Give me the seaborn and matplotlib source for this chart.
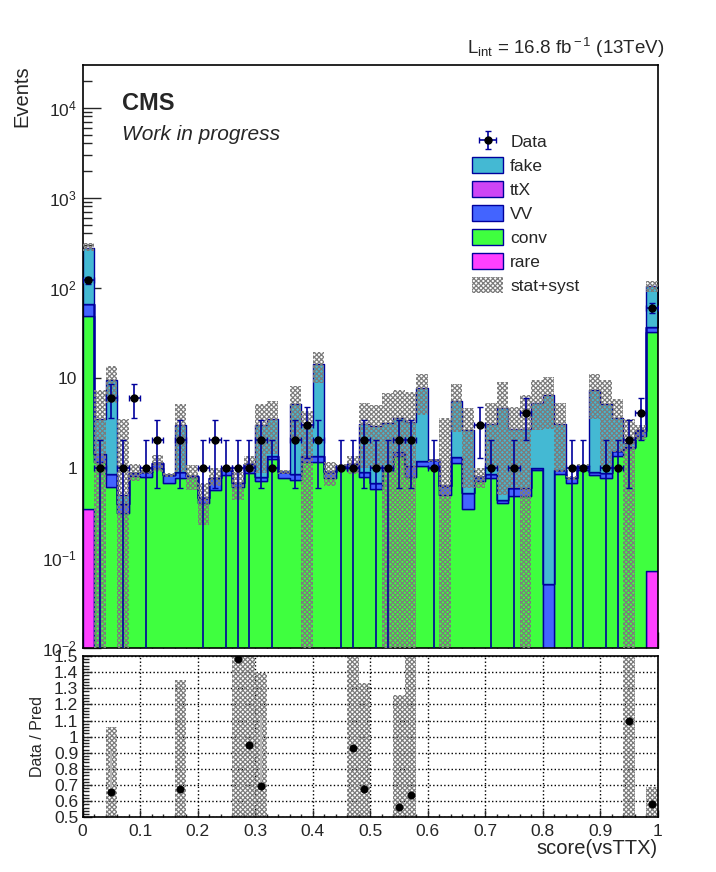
import numpy as np
import pandas as pd
import seaborn as sns
import matplotlib.pyplot as plt
from matplotlib.patches import Patch
from matplotlib.ticker import FixedLocator, MultipleLocator, LogLocator, FuncFormatter, NullFormatter

# binning of the score (50 bins from 0 to 1)
edges = np.linspace(0, 1, 51)
centers = 0.5 * (edges[:-1] + edges[1:])

# expected events per process
rare = [0.35] + [0] * 48 + [0.07]
conv = [48.6, 1.14, 0.615, 0.31, 0.81, 0.79, 1.0, 0.67, 0.76, 0.78,
        0.40, 0.56, 0.83, 0.615, 0.88, 0.70, 1.24, 0.76, 0.73, 1.14,
        1.14, 0.76, 1.0, 0.98, 0.79, 0.575, 0.94, 1.36, 0.79, 1.04,
        0.98, 0.49, 1.12, 0.35, 0.70, 0.76, 0.40, 0.48, 0.48, 0.93,
        0.0, 0.84, 0.67, 0.94, 0.83, 0.76, 1.33, 1.67, 2.27, 32.3]
vv = [16, 0.27, 0.225, 0.08, 0.055, 0.11, 0.12, 0.16, 0.13, 0.03,
      0.06, 0.20, 0.11, 0.065, 0.22, 0.09, 0.11, 0.13, 0.11, 0.19,
      0.19, 0.13, 0.05, 0.12, 0.10, 0.105, 0.06, 0.12, 0.25, 0.15,
      0.22, 0.14, 0.18, 0.17, 0.09, 0.08, 0.04, 0.11, 0.11, 0.05,
      0.051, 0.10, 0.09, 0.11, 0.07, 0.12, 0.20, 0.01, 0.28, 3.9]
ttx = [0] * 50
fake = [211, 2.09, 8.56, 0.11, 0, 0, 0, 0, 2.11, 0,
        0, 0, 0, 0, 0, 2.19, 2.12, 0, 4.26, 1.67,
        12.9, 0, 0, 0, 2.14, 2.22, 2.1, 2.12, 2.2, 6.41,
        0, 0, 4.2, 2.1, 0, 2.19, 4.16, 2.07, 2.07, 4.22,
        6.35, 2.09, 0, 0, 6.4, 4.22, 2.07, 0.18, 0.07, 67.7]

# stat+syst band (lower, upper edge)
band_lo = [257, 0, 5.2, 0, 0.70, 0.85, 0.9, 0.78, 0.9, 0.56,
           0.23, 0.62, 0.9, 0.44, 0.9, 0.86, 1.4, 0.85, 2.03, 0,
           8.8, 0.62, 1.0, 0.85, 1.0, 1.0, 0, 0, 0, 3.85,
           1.15, 0, 2.5, 0.6, 0.59, 1.0, 0.5, 0.6, 0, 2.6,
           2.66, 0.9, 0.72, 1.0, 3.5, 1.0, 1.5, 0, 2.0, 90]
band_hi = [311, 7.3, 13.5, 3.45, 1.1, 0.95, 1.38, 0.88, 5.1, 1.07,
           0.67, 0.98, 0.98, 0.90, 1.33, 5.1, 5.5, 0.93, 8.1, 4.2,
           19.1, 1.15, 1.1, 1.35, 5.2, 4.96, 6.7, 7.2, 7.0, 11.1,
           1.25, 3.6, 8.4, 4.6, 1.0, 5.2, 8.9, 4.76, 6.4, 9.3,
           10.1, 5.2, 0.8, 1.1, 11.0, 9.3, 5.75, 3.45, 2.98, 117]

# observed events
data = [120, 1, 6, 1, 6, 1, 2, 0, 2, 0,
        1, 2, 1, 1, 1, 2, 1, 0, 2, 3,
        2, 0, 1, 1, 2, 1, 1, 2, 2, 0,
        1, 0, 0, 0, 3, 1, 0, 1, 4, 0,
        0, 0, 1, 1, 0, 1, 1, 2, 4, 60]

# ratio panel
ratio_x = [0.05, 0.17, 0.27, 0.29, 0.31, 0.47, 0.49, 0.55, 0.57, 0.95, 0.99]
ratio_val = [0.655, 0.676, 1.479, 0.946, 0.694, 0.928, 0.674, 0.562, 0.638, 1.097, 0.583]
ratio_band_lo = [0.25, 0.0, 0.3, 0.3, 0.0, 0.3, 0.0, 0.0, 0.0, 0.4, 0.47]
ratio_band_hi = [1.058, 1.349, 1.6, 1.6, 1.393, 1.6, 1.335, 1.258, 1.6, 1.6, 0.69]
ratio_err_hi = [0.91, np.nan, np.nan, np.nan, 1.13, np.nan, np.nan, np.nan, np.nan, np.nan, np.nan]

proc_order = ['fake', 'ttX', 'VV', 'conv', 'rare']
proc_colors = {'fake': '#44B9D3', 'ttX': '#CE45F5', 'VV': '#4364FF',
               'conv': '#3FFF3F', 'rare': '#FF40FF'}
proc_values = {'fake': fake, 'ttX': ttx, 'VV': vv, 'conv': conv, 'rare': rare}
navy = '#00009C'
hatch_col = '#7c7c7c'
hatch_pat = 'xxxxxxx'

rows = []
for p in proc_order:
    for c, v in zip(centers, proc_values[p]):
        rows.append({'score': c, 'events': v, 'process': p})
stack_df = pd.DataFrame(rows)

sns.set_style('ticks')
plt.rcParams['font.family'] = ['Liberation Sans', 'DejaVu Sans']
plt.rcParams['mathtext.fontset'] = 'custom'
plt.rcParams['mathtext.rm'] = 'Liberation Sans'
plt.rcParams['mathtext.it'] = 'Liberation Sans:italic'
plt.rcParams['hatch.linewidth'] = 0.9

W, H = 716, 872
fig = plt.figure(figsize=(W / 100, H / 100), dpi=100)
ax = fig.add_axes([82.5 / W, 1 - 647.5 / H, 575.5 / W, (647.5 - 65) / H])
rax = fig.add_axes([82.5 / W, 1 - 817.3 / H, 575.5 / W, (817.3 - 656) / H])

# stacked prediction
sns.histplot(data=stack_df, x='score', weights='events', hue='process',
             hue_order=proc_order, palette=proc_colors, multiple='stack',
             bins=edges.tolist(), element='step', alpha=1, edgecolor=navy,
             linewidth=1, legend=False, ax=ax)
ax.set_yscale('log')

# uncertainty band
lo = np.array(band_lo, dtype=float)
hi = np.array(band_hi, dtype=float)
ax.bar(centers, hi - lo, bottom=lo, width=0.02, facecolor='none',
       edgecolor=hatch_col, hatch=hatch_pat, linewidth=0, zorder=3)

# data
d = np.array(data, dtype=float)
m = d > 0
err = np.sqrt(d[m])
err_lo = np.minimum(err, d[m] * 0.99999)
data_h = ax.errorbar(centers[m], d[m], yerr=[err_lo, err], xerr=0.01, fmt='o',
                     color='black', ecolor=navy, elinewidth=1.2, capsize=2,
                     markersize=5, zorder=5)

ax.set_xlim(0, 1)
ax.set_ylim(1e-2, 2.98e4)
ax.set_xlabel('')
ax.set_ylabel('')


def log_label(v, pos):
    if np.isclose(v, 1):
        return '1'
    if np.isclose(v, 10):
        return '10'
    return r'$10^{%d}$' % int(round(np.log10(v)))


ax.yaxis.set_major_locator(FixedLocator([1e-2, 1e-1, 1, 10, 1e2, 1e3, 1e4]))
ax.yaxis.set_major_formatter(FuncFormatter(log_label))
ax.yaxis.set_minor_locator(LogLocator(base=10, subs=np.arange(2, 10), numticks=20))
ax.yaxis.set_minor_formatter(NullFormatter())
ax.xaxis.set_major_locator(MultipleLocator(0.1))
ax.xaxis.set_minor_locator(MultipleLocator(0.02))
ax.tick_params(axis='y', which='major', direction='in', length=13, width=1, labelsize=12.5, pad=4)
ax.tick_params(axis='y', which='minor', direction='in', length=6.5, width=1)
ax.tick_params(axis='x', which='major', direction='in', length=11.5, width=1, labelbottom=False)
ax.tick_params(axis='x', which='minor', direction='in', length=5.8, width=1)
for s in ax.spines.values():
    s.set_linewidth(1.2)
    s.set_color('black')
    s.set_visible(True)
ax.set_zorder(2)

# legend
handles = [data_h]
for p in proc_order:
    handles.append(Patch(facecolor=proc_colors[p], edgecolor=navy, linewidth=1))
handles.append(Patch(facecolor='white', edgecolor=hatch_col, hatch=hatch_pat, linewidth=0))
labels = ['Data'] + proc_order + ['stat+syst']
leg = fig.legend(handles, labels, loc='upper left', bbox_to_anchor=(472 / W, 1 - 133 / H),
                 frameon=False, fontsize=12.5, handlelength=1.8, handleheight=1.0,
                 labelspacing=0.42, handletextpad=0.4, borderpad=0, borderaxespad=0)

# texts
fig.text(122 / W, 1 - 103 / H, 'CMS', fontsize=17, fontweight='bold', va='center', ha='left')
fig.text(122 / W, 1 - 135 / H, 'Work in progress', fontsize=15, fontstyle='italic', va='center', ha='left')
fig.text(664 / W, 1 - 48 / H, r'L$_{\rm int}$ = 16.8 fb$^{\rm -1}$ (13TeV)', fontsize=13.5,
         va='center', ha='right')
fig.text(22 / W, 1 - 65 / H, 'Events', fontsize=14.5, rotation=90, va='top', ha='center')

# ratio panel
rlo = np.array(ratio_band_lo)
rhi = np.array(ratio_band_hi)
rax.bar(ratio_x, rhi - rlo, bottom=rlo, width=0.02, facecolor='none',
        edgecolor=hatch_col, hatch=hatch_pat, linewidth=0, zorder=2)
rv = np.array(ratio_val)
ru = np.array(ratio_err_hi)
ok = ~np.isnan(ru)
rax.vlines(np.array(ratio_x)[ok], rv[ok], ru[ok], color='#b5b5b5', linewidth=1.5, zorder=2.5)
sns.scatterplot(x=ratio_x, y=ratio_val, color='black', s=28, edgecolor='black', ax=rax, zorder=4)
rax.set_xlim(0, 1)
rax.set_ylim(0.5, 1.5)
rax.set_yticks(np.arange(0.5, 1.51, 0.1))
rax.set_yticklabels(['0.5', '0.6', '0.7', '0.8', '0.9', '1', '1.1', '1.2', '1.3', '1.4', '1.5'])
rax.yaxis.set_minor_locator(MultipleLocator(0.02))
rax.set_xticks(np.arange(0, 1.01, 0.1))
rax.set_xticklabels(['0', '0.1', '0.2', '0.3', '0.4', '0.5', '0.6', '0.7', '0.8', '0.9', '1'])
rax.xaxis.set_minor_locator(MultipleLocator(0.02))
rax.tick_params(axis='both', which='major', direction='in', labelsize=12.5, width=1)
rax.tick_params(axis='y', which='major', length=6.5, pad=3)
rax.tick_params(axis='y', which='minor', direction='in', length=4, width=1)
rax.tick_params(axis='x', which='major', length=5, pad=5)
rax.tick_params(axis='x', which='minor', direction='in', length=2.5, width=1)
rax.grid(True, which='major', linestyle=':', color='black', linewidth=1)
for s in rax.spines.values():
    s.set_linewidth(1.2)
    s.set_color('black')
rax.set_xlabel('')
rax.set_ylabel('')
fig.text(37 / W, 1 - 736 / H, 'Data / Pred', fontsize=11.5, rotation=90, va='center', ha='center')
fig.text(658 / W, 1 - 848 / H, 'score(vsTTX)', fontsize=14.5, va='center', ha='right')

fig.savefig('out.png', dpi=100)
